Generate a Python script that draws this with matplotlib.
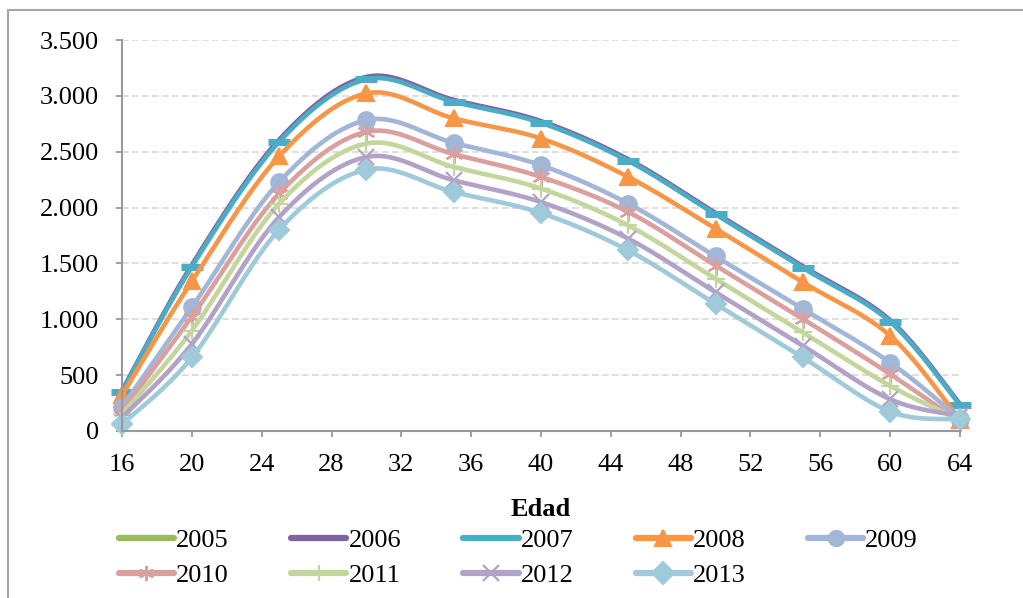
import numpy as np
import matplotlib
matplotlib.use("Agg")
import matplotlib.pyplot as plt
from matplotlib.ticker import FuncFormatter
from matplotlib.patches import Rectangle
from matplotlib.lines import Line2D

# Edad (puntos de la serie)
edad = [16, 20, 25, 30, 35, 40, 45, 50, 55, 60, 64]

anios = ["2005", "2006", "2007", "2008", "2009", "2010", "2011", "2012", "2013"]
v2005 = [355, 1478, 2595, 3155, 2952, 2763, 2422, 1943, 1464, 982, 236]
v2006 = [362, 1488, 2608, 3170, 2964, 2774, 2432, 1952, 1474, 992, 242]
v2007 = [353, 1472, 2588, 3148, 2947, 2759, 2418, 1939, 1460, 978, 233]
v2008 = [320, 1340, 2460, 3022, 2798, 2618, 2274, 1811, 1331, 853, 100]
v2009 = [215, 1107, 2229, 2783, 2579, 2379, 2035, 1562, 1092, 613, 108]
v2010 = [180, 1023, 2125, 2678, 2478, 2274, 1960, 1481, 1003, 509, 80]
v2011 = [152, 898, 2035, 2573, 2364, 2170, 1840, 1362, 882, 404, 100]
v2012 = [120, 778, 1915, 2453, 2244, 2049, 1721, 1242, 763, 284, 135]
v2013 = [60, 658, 1802, 2340, 2139, 1951, 1616, 1137, 658, 173, 105]
valores = [v2005, v2006, v2007, v2008, v2009, v2010, v2011, v2012, v2013]

colores = ["#9BBB59", "#8064A2", "#4BACC6", "#F79646", "#A2B6D8",
           "#DBA09E", "#C3D69B", "#B3A2C7", "#9ECAD9"]
marcadores = [None, None, "_", "^", "o", (6, 2, 0), "+", "x", "D"]
tamanos = [0, 0, 16, 12, 12, 13, 13, 12, 10]
marc_leyenda = [None, None, None, "^", "o", (6, 2, 0), "+", "x", "D"]

plt.rcParams["font.family"] = ["Liberation Serif", "DejaVu Serif"]

N = 30  # muestras por tramo


def suavizar(xs, ys):
    # curva suavizada tipo Excel (Catmull-Rom como Bezier cubica)
    p = np.column_stack([xs, ys]).astype(float)
    p = np.vstack([p[0], p, p[-1]])
    t = np.linspace(0, 1, N, endpoint=False)[:, None]
    tramos = []
    for i in range(1, len(p) - 2):
        p0, p3 = p[i], p[i + 1]
        c1 = p0 + (p[i + 1] - p[i - 1]) / 6
        c2 = p3 - (p[i + 2] - p[i]) / 6
        b = ((1 - t) ** 3) * p0 + 3 * ((1 - t) ** 2) * t * c1 + 3 * (1 - t) * t ** 2 * c2 + t ** 3 * p3
        tramos.append(b)
    tramos.append(p[-2][None, :])
    c = np.vstack(tramos)
    return c[:, 0], c[:, 1]


def grosor(m):
    if m == "_":
        return 5
    if m in ("+", "x", (6, 2, 0)):
        return 1.6
    return 1.5


fig = plt.figure(figsize=(10.23, 5.98), dpi=100)
ax = fig.add_axes([0.1193, 0.2793, 0.9384 - 0.1193, 0.9331 - 0.2793])

handles = []
for nombre, ys, col, m, ms, ml in zip(anios, valores, colores, marcadores, tamanos, marc_leyenda):
    sx, sy = suavizar(edad, ys)
    idx = [i * N for i in range(len(edad))]
    ax.plot(sx, sy, color=col, lw=3.3, marker=m, markevery=idx, ms=ms,
            mfc=col, mec=col, mew=grosor(m), solid_capstyle="round",
            clip_on=False)
    handles.append(Line2D([], [], color=col, lw=4.5, solid_capstyle="round",
                          marker=ml, ms=11, mfc=col, mec=col, mew=grosor(ml),
                          label=nombre))

ax.set_xlim(16, 64)
ax.set_ylim(0, 3500)
ax.set_xticks(range(16, 65, 4))
ax.set_yticks(range(0, 3501, 500))
ax.yaxis.set_major_formatter(FuncFormatter(lambda v, p: f"{v:,.0f}".replace(",", ".")))
ax.grid(axis="y", color="#D9D9D9", ls=(0, (4, 2)), lw=1.2)
ax.set_axisbelow(True)
for s in ["top", "right"]:
    ax.spines[s].set_visible(False)
for s in ["left", "bottom"]:
    ax.spines[s].set_color("#999999")
    ax.spines[s].set_linewidth(1.5)
ax.tick_params(axis="y", colors="#999999", labelcolor="black", labelsize=19,
               length=4.5, width=1.3, pad=12)
ax.tick_params(axis="x", colors="#999999", labelcolor="black", labelsize=19,
               length=4.5, width=1.3, pad=12)
ax.set_xlabel("Edad", fontsize=19, fontweight="bold", labelpad=16)

# la leyenda se llena por columnas: reordenar para que quede por filas
orden = [0, 5, 1, 6, 2, 7, 3, 8, 4]
fig.legend([handles[i] for i in orden], [anios[i] for i in orden],
           loc="upper left", bbox_to_anchor=(0.116, 0.116), ncol=5,
           frameon=False, fontsize=19, handlelength=2.1, handletextpad=0.08,
           columnspacing=2.35, labelspacing=0.45, borderpad=0, borderaxespad=0)

# borde del area del grafico
fig.patches.append(Rectangle((8 / 1023, -0.1), 2, 1.1 - 10 / 598, transform=fig.transFigure,
                             fill=False, ec="#A6A6A6", lw=1.5, clip_on=False))

fig.savefig("out.png", dpi=100)
